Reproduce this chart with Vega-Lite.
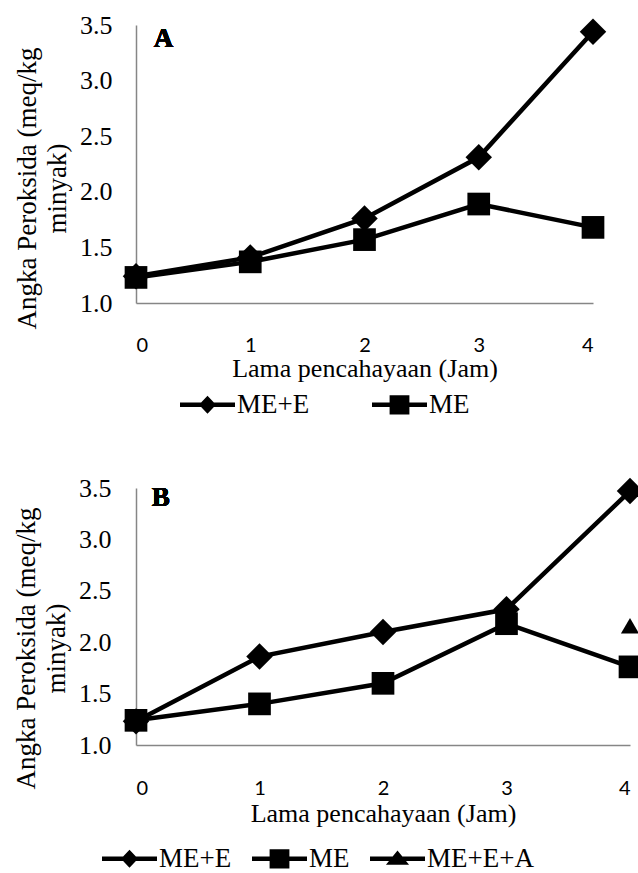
{
  "$schema": "https://vega.github.io/schema/vega-lite/v6.json",
  "background": "white",
  "padding": {"left": 12, "top": 12, "right": 0, "bottom": 0},
  "spacing": 57,
  "config": {
    "view": {"stroke": null},
    "axis": {"grid": false, "ticks": false, "domainColor": "#868686", "domainWidth": 1.5, "labelColor": "black", "titleColor": "black", "titleFontWeight": "normal"},
    "legend": {"padding": 0}
  },
  "vconcat": [
    {
      "width": 457,
      "height": 278,
      "data": {"values": [
        {"jam": 0, "value": 1.24, "series": "ME+E"},
        {"jam": 1, "value": 1.41, "series": "ME+E"},
        {"jam": 2, "value": 1.76, "series": "ME+E"},
        {"jam": 3, "value": 2.31, "series": "ME+E"},
        {"jam": 4, "value": 3.44, "series": "ME+E"},
        {"jam": 0, "value": 1.23, "series": "ME"},
        {"jam": 1, "value": 1.37, "series": "ME"},
        {"jam": 2, "value": 1.57, "series": "ME"},
        {"jam": 3, "value": 1.89, "series": "ME"},
        {"jam": 4, "value": 1.68, "series": "ME"}
      ]},
      "resolve": {"scale": {"shape": "independent"}, "legend": {"shape": "independent"}},
      "encoding": {
        "x": {"field": "jam", "type": "quantitative", "scale": {"domain": [0, 4], "nice": false}, "axis": {"values": [0, 1, 2, 3, 4], "format": "d", "labelFont": "Lato", "labelFontSize": 20, "labelPadding": 32, "title": "Lama pencahayaan (Jam)", "titleFont": "Liberation Serif", "titleFontSize": 26, "titlePadding": 0}},
        "y": {"field": "value", "type": "quantitative", "scale": {"domain": [1, 3.5], "nice": false, "zero": false}, "axis": {"values": [1, 1.5, 2, 2.5, 3, 3.5], "format": ".1f", "labelFont": "Liberation Serif", "labelFontSize": 26, "labelPadding": 24, "title": ["Angka Peroksida (meq/kg", "minyak)"], "titleFont": "Liberation Serif", "titleFontSize": 27, "titleLineHeight": 30, "titlePadding": 8, "titleY": 163}}
      },
      "layer": [
        {"mark": {"type": "line", "color": "black", "strokeWidth": 4.5}, "encoding": {"detail": {"field": "series"}}},
        {"mark": {"type": "point", "filled": true, "color": "black", "opacity": 1},
         "encoding": {
           "shape": {"field": "series", "scale": {"domain": ["ME+E", "ME", "ME+E+A"], "range": ["diamond", "square", "triangle-up"]}, "legend": null},
           "size": {"field": "series", "scale": {"domain": ["ME+E", "ME", "ME+E+A"], "range": [700, 330, 300]}, "legend": null}
         }},
        {"mark": {"type": "point", "filled": true, "color": "black", "opacity": 0},
         "encoding": {
           "shape": {"field": "series", "sort": ["ME+E", "ME"], "scale": {"domain": ["ME+E", "ME"], "range": ["M-1,-0.085H1V0.085H-1Z M0,-0.33L0.31,0L0,0.33L-0.31,0Z", "M-1,-0.085H1V0.085H-1Z M-0.36,-0.35H0.36V0.35H-0.36Z"]},
             "legend": {"title": null, "orient": "none", "legendX": 44, "legendY": 352, "direction": "horizontal", "symbolSize": 3025, "symbolFillColor": "black", "symbolStrokeWidth": 0, "symbolOpacity": 1, "labelFont": "Liberation Serif", "labelFontSize": 27, "labelColor": "black", "labelOffset": 2, "columnPadding": 62}}
         }},
        {"mark": {"type": "text", "font": "Liberation Serif", "fontSize": 27, "fontWeight": "bold", "color": "black"},
         "encoding": {"x": {"datum": 0.24}, "y": {"datum": 3.37}, "text": {"value": "A"}}}
      ]
    },
    {
      "width": 494,
      "height": 257,
      "data": {"values": [
        {"jam": 0, "value": 1.23, "series": "ME+E"},
        {"jam": 1, "value": 1.86, "series": "ME+E"},
        {"jam": 2, "value": 2.10, "series": "ME+E"},
        {"jam": 3, "value": 2.32, "series": "ME+E"},
        {"jam": 4, "value": 3.47, "series": "ME+E"},
        {"jam": 0, "value": 1.24, "series": "ME"},
        {"jam": 1, "value": 1.40, "series": "ME"},
        {"jam": 2, "value": 1.60, "series": "ME"},
        {"jam": 3, "value": 2.18, "series": "ME"},
        {"jam": 4, "value": 1.76, "series": "ME"},
        {"jam": 4, "value": 2.16, "series": "ME+E+A"}
      ]},
      "resolve": {"scale": {"shape": "independent"}, "legend": {"shape": "independent"}},
      "encoding": {
        "x": {"field": "jam", "type": "quantitative", "scale": {"domain": [0, 4], "nice": false}, "axis": {"values": [0, 1, 2, 3, 4], "format": "d", "labelFont": "Lato", "labelFontSize": 20, "labelPadding": 33, "title": "Lama pencahayaan (Jam)", "titleFont": "Liberation Serif", "titleFontSize": 26, "titlePadding": 2}},
        "y": {"field": "value", "type": "quantitative", "scale": {"domain": [1, 3.5], "nice": false, "zero": false}, "axis": {"values": [1, 1.5, 2, 2.5, 3, 3.5], "format": ".1f", "labelFont": "Liberation Serif", "labelFontSize": 26, "labelPadding": 25, "title": ["Angka Peroksida (meq/kg", "minyak)"], "titleFont": "Liberation Serif", "titleFontSize": 27, "titleLineHeight": 30, "titlePadding": 8, "titleY": 160}}
      },
      "layer": [
        {"mark": {"type": "line", "color": "black", "strokeWidth": 4.5}, "encoding": {"detail": {"field": "series"}}},
        {"mark": {"type": "point", "filled": true, "color": "black", "opacity": 1},
         "encoding": {
           "shape": {"field": "series", "scale": {"domain": ["ME+E", "ME", "ME+E+A"], "range": ["diamond", "square", "triangle-up"]}, "legend": null},
           "size": {"field": "series", "scale": {"domain": ["ME+E", "ME", "ME+E+A"], "range": [700, 330, 300]}, "legend": null}
         }},
        {"mark": {"type": "point", "filled": true, "color": "black", "opacity": 0},
         "encoding": {
           "shape": {"field": "series", "sort": ["ME+E", "ME", "ME+E+A"], "scale": {"domain": ["ME+E", "ME", "ME+E+A"], "range": ["M-1,-0.085H1V0.085H-1Z M0,-0.33L0.31,0L0,0.33L-0.31,0Z", "M-1,-0.085H1V0.085H-1Z M-0.36,-0.35H0.36V0.35H-0.36Z", "M-1,-0.085H1V0.085H-1Z M0,-0.3L0.42,0.22L-0.42,0.22Z"]},
             "legend": {"title": null, "orient": "none", "legendX": -34, "legendY": 343, "direction": "horizontal", "symbolSize": 3025, "symbolFillColor": "black", "symbolStrokeWidth": 0, "symbolOpacity": 1, "labelFont": "Liberation Serif", "labelFontSize": 27, "labelColor": "black", "labelOffset": 2, "columnPadding": 20}}
         }},
        {"mark": {"type": "text", "font": "Liberation Serif", "fontSize": 27, "fontWeight": "bold", "color": "black"},
         "encoding": {"x": {"datum": 0.2}, "y": {"datum": 3.4}, "text": {"value": "B"}}}
      ]
    }
  ]
}
